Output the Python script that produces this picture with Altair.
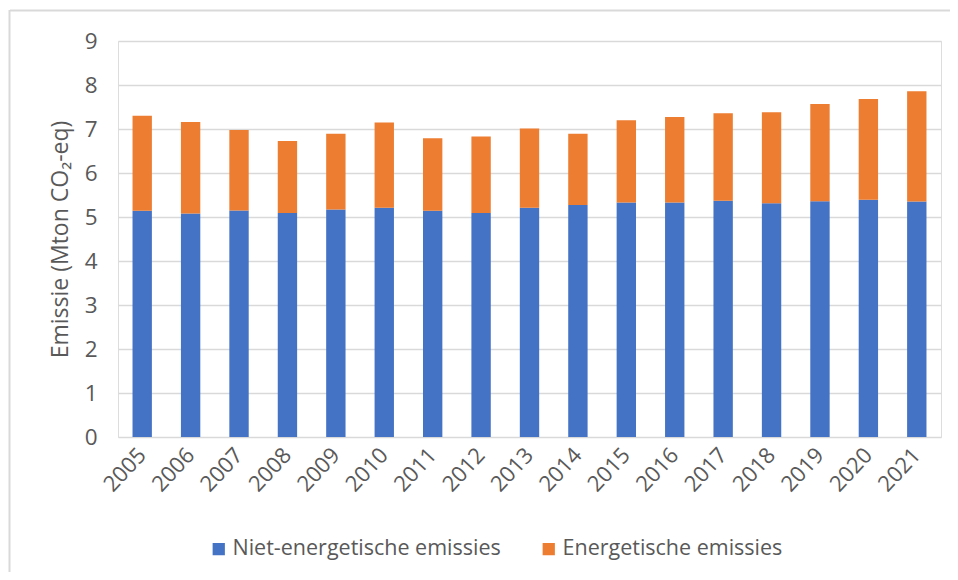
import altair as alt
import pandas as pd

years = [str(y) for y in range(2005, 2022)]
niet_energetisch = [5.14, 5.08, 5.15, 5.09, 5.17, 5.21, 5.14, 5.09, 5.21, 5.27, 5.33, 5.33, 5.37, 5.31, 5.36, 5.39, 5.35]
energetisch = [2.16, 2.08, 1.83, 1.64, 1.72, 1.94, 1.65, 1.74, 1.80, 1.62, 1.87, 1.94, 1.99, 2.07, 2.21, 2.29, 2.51]
series = ["Niet-energetische emissies", "Energetische emissies"]
colors = ["#4472C4", "#ED7D31"]

rows = []
for y, a, b in zip(years, niet_energetisch, energetisch):
    rows.append({"jaar": y, "reeks": series[0], "waarde": a, "volgorde": 0})
    rows.append({"jaar": y, "reeks": series[1], "waarde": b, "volgorde": 1})
df = pd.DataFrame(rows)

FONT = "Open Sans"
TXT = "#595959"

bars = alt.Chart(df).mark_bar().encode(
    x=alt.X("jaar:N", sort=years,
            scale=alt.Scale(paddingInner=0.6, paddingOuter=0.3),
            axis=alt.Axis(title=None, labelAngle=-47, labelFontSize=22, labelColor=TXT,
                          labelFont=FONT, ticks=False, domain=False, labelPadding=14)),
    y=alt.Y("waarde:Q", stack="zero",
            scale=alt.Scale(domain=[0, 9], nice=False),
            axis=alt.Axis(title="Emissie (Mton CO₂-eq)", values=list(range(10)),
                          labelFontSize=22.5, labelColor=TXT, labelFont=FONT,
                          titleFontSize=23, titleColor=TXT, titleFont=FONT,
                          titleFontWeight="normal", titlePadding=12,
                          ticks=False, domain=False, labelPadding=21,
                          grid=True, gridColor="#d9d9d9", gridWidth=1.5)),
    color=alt.Color("reeks:N", scale=alt.Scale(domain=series, range=colors),
                    legend=alt.Legend(title=None, orient="none", direction="horizontal",
                                      legendX=90, legendY=497, symbolType="square",
                                      symbolSize=150, symbolStrokeWidth=0,
                                      labelFontSize=21.5, labelColor=TXT, labelFont=FONT,
                                      labelLimit=500, labelOffset=3, columnPadding=37)),
    order=alt.Order("volgorde:Q", sort="ascending"),
)

frame_df = pd.DataFrame({"k": [0]})
top_line = alt.Chart(frame_df).mark_rule(color="#d9d9d9", strokeWidth=2).encode(
    x=alt.value(-108), x2=alt.value(850), y=alt.value(-30.5))
left_line = alt.Chart(frame_df).mark_rule(color="#d9d9d9", strokeWidth=2).encode(
    x=alt.value(-108.5), y=alt.value(-31), y2=alt.value(540))

chart = alt.layer(bars, top_line, left_line).properties(
    width=823, height=396,
    padding={"left": 110, "top": 33, "right": 9, "bottom": 135},
    autosize=alt.AutoSizeParams(type="none"),
).configure_view(stroke=None).configure(background="white")

chart.save("out.html", embed_options={"renderer": "svg", "actions": False})
